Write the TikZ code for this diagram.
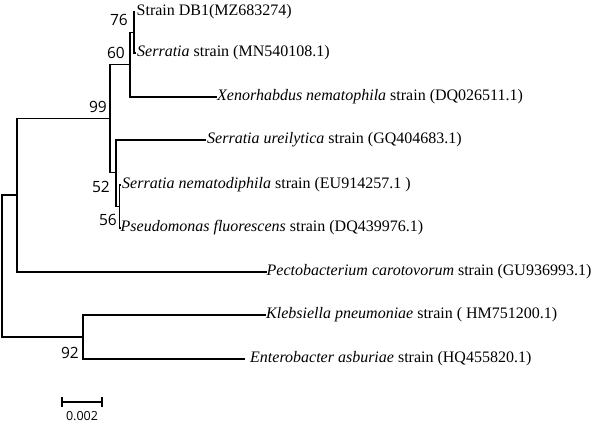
\documentclass[tikz,border=0pt]{standalone}
\usepackage{fontspec}
\setmainfont{Liberation Serif}
\newfontfamily\bootfont{Open Sans}
\begin{document}
\begin{tikzpicture}[x=1bp,y=-1bp,
  branch/.style={line width=1.4bp, line cap=rect},
  tip/.style={anchor=west, inner ysep=0pt, inner xsep=2bp, font=\fontsize{16bp}{18bp}\selectfont},
  boot/.style={anchor=east, inner sep=0pt, font=\bootfont\fontsize{15.5bp}{17bp}\selectfont},
  scalelbl/.style={inner sep=0pt, font=\bootfont\fontsize{12.5bp}{14bp}\selectfont}]
\useasboundingbox (0,0) rectangle (597,422);
% internal nodes
\coordinate (root) at (2,266.5);
\coordinate (n1) at (17,195);
\coordinate (n2) at (110,118.5);
\coordinate (n3) at (130,64.5);
\coordinate (n4) at (134,32.5);
\coordinate (n5) at (116,172.5);
\coordinate (n6) at (119.5,206.5);
\coordinate (n8) at (83,337);
% tips
\node[tip] (t1) at (134.5,12) {Strain DB1(MZ683274)};
\node[tip] (t2) at (135,53) {\textit{Serratia} strain (MN540108.1)};
\node[tip, inner xsep=1bp] (t3) at (216,97) {\textit{Xenorhabdus nematophila} strain (DQ026511.1)};
\node[tip] (t4) at (205,140) {\textit{Serratia ureilytica} strain (GQ404683.1)};
\node[tip] (t5) at (120,185) {\textit{Serratia nematodiphila} strain (EU914257.1 )};
\node[tip, inner xsep=0.5bp] (t6) at (120,228) {\textit{Pseudomonas fluorescens} strain (DQ439976.1)};
\node[tip, inner xsep=0.5bp] (t7) at (266,272) {\textit{Pectobacterium carotovorum} strain (GU936993.1)};
\node[tip, inner xsep=1bp] (t8) at (265,315) {\textit{Klebsiella pneumoniae} strain ( HM751200.1)};
\node[tip, inner xsep=6bp] (t9) at (244,359) {\textit{Enterobacter asburiae} strain (HQ455820.1)};
% branches
\draw[branch] (root) |- (n1);
\draw[branch] (root) |- (n8);
\draw[branch] (n1) |- (n2);
\draw[branch] (n1) |- (t7.west);
\draw[branch] (n2) |- (n3);
\draw[branch] (n2) |- (n5);
\draw[branch] (n3) |- (n4);
\draw[branch] (n3) |- (t3.west);
\draw[branch] (n4) |- (t1.west);
\draw[branch] (n4) |- (t2.west);
\draw[branch] (n5) |- (t4.west);
\draw[branch] (n5) |- (n6);
\draw[branch] (n6) |- (t5.west);
\draw[branch] (n6) |- (t6.west);
\draw[branch] (n8) |- (t8.west);
\draw[branch] (n8) |- (t9.west);
% bootstrap values
\node[boot] (b76) at (128,20) {76};
\node[boot] (b60) at (125,53) {60};
\node[boot] (b99) at (107,107) {99};
\node[boot] (b52) at (110,187) {52};
\node[boot] (b56) at (117,220) {56};
\node[boot] (b92) at (79,353) {92};
% scale bar
\coordinate (s1) at (62,402);
\coordinate (s2) at (102,402);
\draw[line width=1.4bp] (s1) -- (s2);
\draw[line width=1.4bp] ([yshift=-5bp]s1) -- ([yshift=5bp]s1);
\draw[line width=1.4bp] ([yshift=-5bp]s2) -- ([yshift=5bp]s2);
\node[scalelbl] (sl) at (82,416) {0.002};
\end{tikzpicture}
\end{document}
